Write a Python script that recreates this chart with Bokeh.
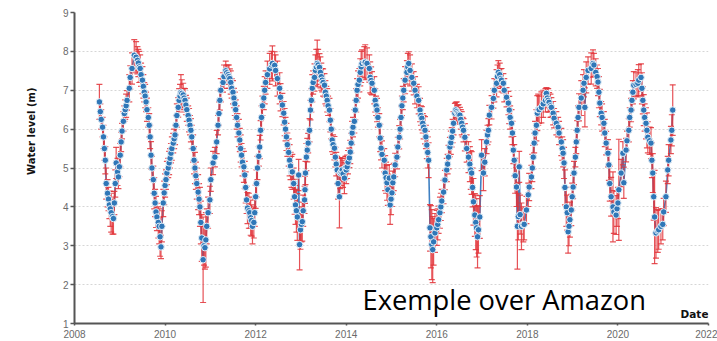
from bokeh.plotting import figure
from bokeh.models import ColumnDataSource, Label, Title
from bokeh.embed import file_html
from bokeh.resources import INLINE

# Altimetry water level over the Amazon: (decimal year, water level [m], error [m])
hy2009 = [(2008.55, 6.70, 0.45), (2008.57, 6.45, 0.20), (2008.59, 6.25, 0.25), (2008.62, 6.05, 0.25),
          (2008.64, 5.80, 0.30), (2008.66, 5.50, 0.30), (2008.68, 5.20, 0.35), (2008.70, 4.60, 0.40),
          (2008.73, 4.35, 0.35), (2008.75, 4.20, 0.30), (2008.77, 4.05, 0.35), (2008.79, 3.95, 0.45),
          (2008.81, 3.85, 0.50), (2008.84, 3.75, 0.45), (2008.86, 3.70, 0.40), (2008.88, 4.10, 0.30),
          (2008.90, 4.60, 0.35), (2008.92, 5.13, 0.40), (2008.95, 4.90, 0.35), (2008.97, 4.77, 0.30),
          (2008.99, 5.03, 0.25), (2009.01, 5.33, 0.30), (2009.03, 5.67, 0.25), (2009.05, 5.95, 0.20),
          (2009.08, 6.20, 0.25), (2009.10, 6.40, 0.20), (2009.12, 6.50, 0.25), (2009.14, 6.60, 0.30),
          (2009.16, 6.74, 0.25), (2009.21, 7.05, 0.35), (2009.23, 7.33, 0.30), (2009.27, 7.56, 0.40),
          (2009.32, 7.90, 0.40)]
hy2010 = [(2009.36, 7.85, 0.40), (2009.39, 7.77, 0.35), (2009.41, 7.70, 0.35), (2009.43, 7.60, 0.40),
          (2009.45, 7.56, 0.35), (2009.47, 7.40, 0.30), (2009.50, 7.26, 0.35), (2009.52, 7.10, 0.30),
          (2009.54, 6.95, 0.25), (2009.56, 6.85, 0.30), (2009.58, 6.70, 0.25), (2009.60, 6.50, 0.30),
          (2009.63, 6.30, 0.25), (2009.65, 6.10, 0.30), (2009.67, 5.80, 0.30), (2009.69, 5.33, 0.35),
          (2009.71, 5.00, 0.30), (2009.74, 4.70, 0.35), (2009.76, 4.35, 0.40), (2009.78, 4.10, 0.35),
          (2009.80, 3.87, 0.40), (2009.82, 3.74, 0.35), (2009.85, 3.60, 0.40), (2009.87, 3.50, 0.45),
          (2009.89, 3.23, 0.50), (2009.91, 2.97, 0.30), (2009.93, 3.50, 0.40), (2009.96, 4.10, 0.35),
          (2009.98, 4.36, 0.30), (2010.00, 4.55, 0.30), (2010.02, 4.70, 0.25), (2010.04, 4.87, 0.30),
          (2010.07, 5.00, 0.25), (2010.09, 5.13, 0.30), (2010.11, 5.25, 0.25), (2010.13, 5.38, 0.25),
          (2010.15, 5.50, 0.30), (2010.18, 5.64, 0.25), (2010.20, 5.75, 0.25), (2010.22, 5.85, 0.25),
          (2010.24, 6.10, 0.25), (2010.26, 6.35, 0.30), (2010.29, 6.56, 0.25), (2010.31, 6.74, 0.30),
          (2010.33, 6.85, 0.30), (2010.35, 6.95, 0.45)]
hy2011 = [(2010.37, 6.92, 0.35), (2010.40, 6.88, 0.30), (2010.42, 6.80, 0.25), (2010.44, 6.74, 0.30),
          (2010.46, 6.62, 0.25), (2010.48, 6.50, 0.30), (2010.51, 6.35, 0.25), (2010.53, 6.23, 0.30),
          (2010.55, 6.10, 0.25), (2010.57, 5.97, 0.30), (2010.59, 5.80, 0.30), (2010.62, 5.50, 0.35),
          (2010.64, 5.20, 0.35), (2010.66, 5.00, 0.40), (2010.68, 4.80, 0.35), (2010.70, 4.60, 0.40),
          (2010.73, 4.38, 0.45), (2010.75, 4.20, 0.40), (2010.77, 4.00, 0.50), (2010.79, 3.60, 0.55),
          (2010.81, 3.20, 0.60), (2010.84, 2.64, 1.10), (2010.86, 3.00, 0.50), (2010.88, 2.95, 0.55),
          (2010.90, 3.15, 0.70), (2010.92, 3.50, 0.45), (2010.95, 3.85, 0.40), (2010.99, 4.18, 0.35),
          (2011.01, 4.70, 0.30), (2011.06, 5.13, 0.30), (2011.10, 5.28, 0.25), (2011.14, 5.67, 0.30),
          (2011.17, 6.10, 0.25), (2011.19, 6.40, 0.30), (2011.21, 6.74, 0.25), (2011.23, 7.00, 0.30),
          (2011.28, 7.20, 0.25), (2011.30, 7.35, 0.30), (2011.34, 7.50, 0.25)]
hy2012 = [(2011.36, 7.45, 0.20), (2011.39, 7.40, 0.25), (2011.41, 7.35, 0.30), (2011.43, 7.30, 0.25),
          (2011.45, 7.20, 0.30), (2011.47, 7.05, 0.25), (2011.50, 6.95, 0.30), (2011.52, 6.80, 0.25),
          (2011.54, 6.65, 0.30), (2011.56, 6.50, 0.25), (2011.58, 6.30, 0.30), (2011.60, 6.10, 0.30),
          (2011.63, 5.90, 0.35), (2011.65, 5.72, 0.30), (2011.67, 5.50, 0.35), (2011.69, 5.33, 0.30),
          (2011.71, 5.15, 0.35), (2011.74, 5.03, 0.40), (2011.76, 4.82, 0.35), (2011.78, 4.50, 0.40),
          (2011.80, 4.18, 0.35), (2011.82, 3.97, 0.40), (2011.85, 3.90, 0.45), (2011.87, 3.85, 0.40),
          (2011.89, 3.72, 0.45), (2011.91, 3.65, 0.40), (2011.93, 3.50, 0.45), (2011.96, 3.60, 0.40),
          (2011.98, 3.85, 0.35), (2012.00, 4.26, 0.30), (2012.02, 4.60, 0.35), (2012.04, 5.00, 0.30),
          (2012.07, 5.30, 0.25), (2012.09, 5.54, 0.30), (2012.11, 5.97, 0.25), (2012.13, 6.30, 0.30),
          (2012.15, 6.60, 0.25), (2012.18, 6.80, 0.30), (2012.20, 7.00, 0.35), (2012.22, 7.20, 0.30),
          (2012.26, 7.40, 0.35), (2012.31, 7.55, 0.40), (2012.35, 7.65, 0.35), (2012.37, 7.69, 0.45)]
hy2013 = [(2012.42, 7.64, 0.35), (2012.44, 7.51, 0.40), (2012.48, 7.30, 0.45), (2012.53, 7.05, 0.40),
          (2012.55, 6.82, 0.35), (2012.59, 6.62, 0.30), (2012.62, 6.41, 0.30), (2012.64, 6.18, 0.35),
          (2012.66, 6.00, 0.30), (2012.68, 5.80, 0.35), (2012.70, 5.60, 0.30), (2012.73, 5.40, 0.35),
          (2012.75, 5.20, 0.40), (2012.77, 5.05, 0.35), (2012.79, 4.90, 0.40), (2012.81, 4.90, 0.45),
          (2012.84, 4.60, 0.40), (2012.86, 4.26, 0.45), (2012.88, 4.05, 0.50), (2012.90, 3.90, 0.55),
          (2012.92, 3.74, 0.60), (2012.95, 4.82, 0.40), (2012.97, 3.03, 0.65), (2012.99, 3.41, 0.50),
          (2013.01, 3.55, 0.45), (2013.03, 3.62, 0.50), (2013.05, 3.90, 0.40), (2013.08, 4.18, 0.35),
          (2013.09, 4.44, 0.35), (2013.10, 4.87, 0.30), (2013.12, 5.28, 0.35), (2013.14, 5.46, 0.30),
          (2013.16, 5.64, 0.25), (2013.19, 5.97, 0.30), (2013.21, 6.49, 0.25), (2013.23, 6.74, 0.30),
          (2013.25, 7.05, 0.35), (2013.27, 7.20, 0.30), (2013.30, 7.33, 0.35), (2013.32, 7.51, 0.40),
          (2013.34, 7.60, 0.45), (2013.36, 7.69, 0.60)]
hy2014 = [(2013.38, 7.65, 0.40), (2013.41, 7.59, 0.35), (2013.43, 7.46, 0.40), (2013.45, 7.35, 0.35),
          (2013.47, 7.26, 0.30), (2013.49, 7.20, 0.35), (2013.52, 7.13, 0.30), (2013.54, 6.95, 0.30),
          (2013.56, 6.85, 0.25), (2013.58, 6.74, 0.30), (2013.60, 6.60, 0.25), (2013.63, 6.49, 0.30),
          (2013.65, 6.23, 0.30), (2013.67, 6.00, 0.25), (2013.69, 5.72, 0.30), (2013.71, 5.60, 0.25),
          (2013.74, 5.51, 0.30), (2013.76, 5.28, 0.25), (2013.78, 5.10, 0.30), (2013.80, 4.95, 0.35),
          (2013.82, 4.60, 0.40), (2013.85, 4.26, 0.80), (2013.87, 4.87, 0.40), (2013.89, 4.90, 0.35),
          (2013.91, 4.95, 0.30), (2013.93, 4.85, 0.35), (2013.96, 4.74, 0.40), (2013.98, 5.00, 0.30),
          (2014.00, 4.95, 0.35), (2014.02, 5.03, 0.30), (2014.04, 5.15, 0.30), (2014.07, 5.26, 0.25),
          (2014.09, 5.41, 0.30), (2014.11, 5.64, 0.25), (2014.13, 5.90, 0.30), (2014.15, 6.05, 0.25),
          (2014.18, 6.20, 0.30), (2014.20, 6.49, 0.25), (2014.22, 6.74, 0.30), (2014.24, 7.00, 0.30),
          (2014.26, 7.15, 0.35), (2014.29, 7.26, 0.30), (2014.31, 7.46, 0.35), (2014.33, 7.60, 0.40),
          (2014.35, 7.69, 0.35), (2014.40, 7.72, 0.40)]
hy2015 = [(2014.42, 7.72, 0.45), (2014.46, 7.69, 0.40), (2014.51, 7.56, 0.35), (2014.53, 7.33, 0.40),
          (2014.55, 7.25, 0.35), (2014.57, 7.18, 0.30), (2014.62, 7.00, 0.35), (2014.64, 6.74, 0.30),
          (2014.66, 6.60, 0.25), (2014.68, 6.49, 0.30), (2014.70, 6.30, 0.25), (2014.73, 6.10, 0.30),
          (2014.75, 5.77, 0.35), (2014.77, 5.51, 0.30), (2014.79, 5.35, 0.35), (2014.84, 5.20, 0.30),
          (2014.86, 4.87, 0.45), (2014.88, 4.75, 0.40), (2014.90, 4.62, 0.45), (2014.92, 4.44, 0.40),
          (2014.95, 4.74, 0.35), (2014.97, 4.05, 0.50), (2014.99, 4.20, 0.40), (2015.01, 4.36, 0.35),
          (2015.03, 4.62, 0.30), (2015.05, 4.77, 0.35), (2015.08, 5.08, 0.30), (2015.12, 5.28, 0.30),
          (2015.14, 5.54, 0.25), (2015.17, 5.79, 0.30), (2015.19, 6.00, 0.25), (2015.21, 6.30, 0.30),
          (2015.23, 6.60, 0.25), (2015.25, 6.80, 0.30), (2015.27, 7.00, 0.30), (2015.30, 7.26, 0.35),
          (2015.34, 7.46, 0.30), (2015.36, 7.60, 0.35), (2015.38, 7.69, 0.30)]
hy2016 = [(2015.41, 7.51, 0.40), (2015.45, 7.33, 0.35), (2015.49, 7.18, 0.30), (2015.52, 7.00, 0.35),
          (2015.56, 6.85, 0.30), (2015.60, 6.74, 0.35), (2015.63, 6.49, 0.30), (2015.65, 6.35, 0.25),
          (2015.67, 6.28, 0.30), (2015.69, 6.15, 0.25), (2015.71, 6.05, 0.30), (2015.74, 5.97, 0.35),
          (2015.76, 5.80, 0.30), (2015.78, 5.59, 0.35), (2015.80, 5.40, 0.40), (2015.82, 5.20, 0.45),
          (2015.85, 3.46, 0.60), (2015.87, 3.23, 0.80), (2015.89, 3.03, 0.90), (2015.91, 2.90, 0.85),
          (2015.93, 3.10, 0.60), (2015.96, 3.33, 0.50), (2016.00, 3.46, 0.45), (2016.02, 3.55, 0.40),
          (2016.04, 3.67, 0.35), (2016.07, 3.85, 0.40), (2016.09, 4.00, 0.35), (2016.11, 4.15, 0.30),
          (2016.15, 4.38, 0.30), (2016.18, 4.69, 0.25), (2016.22, 4.95, 0.30), (2016.24, 5.10, 0.25),
          (2016.26, 5.28, 0.30), (2016.29, 5.54, 0.25), (2016.31, 5.65, 0.30), (2016.33, 5.79, 0.25),
          (2016.35, 5.95, 0.30), (2016.37, 6.15, 0.30), (2016.40, 6.41, 0.25), (2016.42, 6.49, 0.20)]
hy2017 = [(2016.44, 6.45, 0.25), (2016.46, 6.41, 0.20), (2016.48, 6.38, 0.25), (2016.51, 6.36, 0.20),
          (2016.53, 6.25, 0.25), (2016.55, 6.15, 0.30), (2016.57, 6.05, 0.25), (2016.59, 5.97, 0.30),
          (2016.62, 5.79, 0.35), (2016.66, 5.50, 0.35), (2016.70, 5.28, 0.40), (2016.73, 5.10, 0.45),
          (2016.75, 4.95, 0.50), (2016.77, 4.87, 0.55), (2016.79, 4.50, 0.50), (2016.81, 4.13, 0.60),
          (2016.84, 3.79, 0.55), (2016.86, 3.60, 0.70), (2016.88, 3.46, 0.75), (2016.90, 3.23, 0.80),
          (2016.92, 3.41, 0.60), (2016.95, 3.74, 0.55), (2016.99, 5.33, 0.40), (2017.03, 4.87, 0.45),
          (2017.06, 5.15, 0.35), (2017.10, 5.67, 0.30), (2017.12, 5.85, 0.25), (2017.14, 5.97, 0.30),
          (2017.16, 6.36, 0.25), (2017.21, 6.56, 0.30), (2017.25, 6.79, 0.25), (2017.27, 7.00, 0.30),
          (2017.32, 7.18, 0.35), (2017.34, 7.35, 0.30), (2017.36, 7.46, 0.30)]
hy2018 = [(2017.39, 7.40, 0.30), (2017.41, 7.30, 0.25), (2017.43, 7.26, 0.30), (2017.47, 7.18, 0.25),
          (2017.49, 7.00, 0.30), (2017.54, 6.82, 0.25), (2017.58, 6.67, 0.30), (2017.60, 6.49, 0.35),
          (2017.62, 6.30, 0.30), (2017.65, 6.15, 0.35), (2017.67, 5.90, 0.30), (2017.69, 5.46, 0.35),
          (2017.71, 5.20, 0.40), (2017.73, 4.80, 0.45), (2017.76, 4.51, 0.50), (2017.78, 3.50, 1.10),
          (2017.80, 3.75, 0.60), (2017.82, 5.03, 0.40), (2017.84, 3.80, 0.50), (2017.87, 3.50, 0.60),
          (2017.91, 3.55, 0.45), (2017.93, 3.55, 0.40), (2017.98, 3.92, 0.35), (2018.02, 4.31, 0.30),
          (2018.04, 4.51, 0.35), (2018.09, 4.77, 0.30), (2018.11, 5.00, 0.35), (2018.13, 5.28, 0.30),
          (2018.15, 5.64, 0.25), (2018.17, 5.90, 0.30), (2018.20, 6.10, 0.40), (2018.22, 6.41, 0.45),
          (2018.24, 6.50, 0.40), (2018.26, 6.50, 0.35), (2018.31, 6.56, 0.40), (2018.35, 6.65, 0.35),
          (2018.40, 6.74, 0.30), (2018.42, 6.92, 0.15)]
hy2019 = [(2018.44, 6.80, 0.25), (2018.46, 6.74, 0.30), (2018.48, 6.69, 0.25), (2018.51, 6.60, 0.30),
          (2018.53, 6.56, 0.25), (2018.57, 6.41, 0.30), (2018.59, 6.28, 0.25), (2018.64, 6.15, 0.30),
          (2018.68, 6.05, 0.25), (2018.70, 5.90, 0.30), (2018.75, 5.67, 0.35), (2018.77, 5.50, 0.30),
          (2018.79, 5.38, 0.35), (2018.81, 5.13, 0.40), (2018.83, 4.50, 0.45), (2018.86, 4.00, 0.50),
          (2018.88, 3.85, 0.45), (2018.90, 3.36, 0.55), (2018.92, 3.50, 0.50), (2018.94, 3.67, 0.45),
          (2018.97, 3.92, 0.40), (2018.99, 4.26, 0.35), (2019.01, 4.51, 0.30), (2019.03, 4.87, 0.30),
          (2019.06, 5.28, 0.25), (2019.08, 5.67, 0.30), (2019.10, 5.97, 0.25), (2019.12, 6.30, 0.30),
          (2019.14, 6.56, 0.35), (2019.19, 6.80, 0.45), (2019.23, 7.00, 0.40), (2019.25, 7.18, 0.35),
          (2019.27, 6.56, 0.50), (2019.30, 7.33, 0.40), (2019.34, 7.51, 0.35), (2019.41, 7.56, 0.40),
          (2019.45, 7.69, 0.35)]
hy2020 = [(2019.47, 7.65, 0.30), (2019.51, 7.46, 0.35), (2019.54, 7.35, 0.30), (2019.56, 7.21, 0.35),
          (2019.58, 6.95, 0.40), (2019.60, 6.67, 0.35), (2019.63, 6.41, 0.30), (2019.65, 6.30, 0.35),
          (2019.69, 6.15, 0.30), (2019.71, 5.90, 0.35), (2019.74, 5.64, 0.30), (2019.78, 5.38, 0.35),
          (2019.80, 5.08, 0.40), (2019.82, 4.60, 0.45), (2019.85, 4.26, 0.50), (2019.89, 4.00, 0.90),
          (2019.91, 3.87, 0.55), (2019.96, 3.79, 0.50), (2019.98, 3.95, 0.45), (2020.00, 4.10, 0.40),
          (2020.02, 4.44, 1.30), (2020.07, 4.87, 0.35), (2020.11, 5.38, 0.30), (2020.13, 4.62, 0.40),
          (2020.18, 5.46, 0.30), (2020.20, 5.70, 0.25), (2020.24, 5.97, 0.30), (2020.26, 6.30, 0.25),
          (2020.29, 6.49, 0.30), (2020.31, 6.74, 0.25), (2020.33, 6.95, 0.30), (2020.35, 7.13, 0.35),
          (2020.40, 7.15, 0.30), (2020.44, 7.18, 0.35), (2020.46, 7.26, 0.40), (2020.51, 7.33, 0.35)]
hy2021 = [(2020.53, 7.05, 0.40), (2020.55, 6.74, 0.35), (2020.57, 6.49, 0.40), (2020.59, 6.30, 0.35),
          (2020.62, 6.15, 0.40), (2020.64, 5.97, 0.45), (2020.66, 5.79, 0.40), (2020.70, 5.70, 0.35),
          (2020.73, 5.64, 0.40), (2020.75, 5.20, 0.45), (2020.77, 4.87, 0.50), (2020.79, 4.26, 0.60),
          (2020.81, 3.74, 1.20), (2020.84, 3.33, 0.65), (2020.88, 3.38, 0.55), (2020.90, 3.41, 0.50),
          (2020.95, 3.50, 0.45), (2020.99, 3.55, 0.40), (2021.01, 3.87, 0.35), (2021.06, 4.26, 0.40),
          (2021.10, 4.95, 0.35), (2021.12, 5.20, 0.40), (2021.17, 5.72, 0.35), (2021.19, 5.97, 0.40),
          (2021.21, 6.49, 0.65)]

x_ticks = [2008, 2010, 2012, 2014, 2016, 2018, 2020, 2022]
y_ticks = [1, 2, 3, 4, 5, 6, 7, 8, 9]
y_title = "Water level (m)"
x_title = "Date"
note = "Exemple over Amazon"

series = hy2009 + hy2010 + hy2011 + hy2012 + hy2013 + hy2014 + hy2015 + hy2016 + hy2017 + hy2018 + hy2019 + hy2020 + hy2021
t = [r[0] for r in series]
h = [r[1] for r in series]
err = [r[2] for r in series]
src = ColumnDataSource(dict(t=t, h=h, lo=[a - b for a, b in zip(h, err)], hi=[a + b for a, b in zip(h, err)]))

p = figure(width=717, height=341, x_range=(x_ticks[0], x_ticks[-1]), y_range=(y_ticks[0], y_ticks[-1]),
           output_backend="svg", toolbar_location=None,
           min_border_left=70, min_border_right=9, min_border_top=12, min_border_bottom=18)
p.outline_line_color = None
p.background_fill_color = "white"
p.border_fill_color = "white"

p.xgrid.visible = False
p.ygrid.grid_line_color = "#d6d6d6"
p.ygrid.grid_line_dash = "2 2"
p.ygrid.grid_line_width = 1

for ax in (p.xaxis[0], p.yaxis[0]):
    ax.axis_label = None
    ax.axis_line_color = "#555555"
    ax.axis_line_width = 2
    ax.major_tick_line_color = "#555555"
    ax.major_tick_line_width = 1.5
    ax.minor_tick_line_color = None
    ax.major_tick_in = 0
    ax.major_label_text_font = "Liberation Sans"
    ax.major_label_text_font_size = "10px"
    ax.major_label_text_color = "#6a6a6a"
p.xaxis.ticker = x_ticks
p.yaxis.ticker = y_ticks
p.xaxis.major_tick_out = 2
p.xaxis.major_label_standoff = 4
p.yaxis.major_tick_out = 4
p.yaxis.major_label_standoff = 2

# series line, error bars, points
p.line("t", "h", source=src, line_color="#3f80c2", line_width=1.6)
p.segment(x0="t", y0="lo", x1="t", y1="hi", source=src, line_color="#e2343a", line_width=1.2, line_alpha=0.85)
p.scatter("t", "lo", source=src, marker="dash", size=6, line_color="#e2343a", line_width=1.2, line_alpha=0.85)
p.scatter("t", "hi", source=src, marker="dash", size=6, line_color="#e2343a", line_width=1.2, line_alpha=0.85)
p.scatter("t", "h", source=src, marker="circle", size=6.5, fill_color="#2f77b8",
          line_color="#e6f0f8", line_width=1)

p.add_layout(Title(text=y_title, align="right", offset=75, standoff=46,
                   text_font="DejaVu Sans", text_font_style="bold", text_font_size="10px",
                   text_color="#111111"), "left")
p.add_layout(Label(x=2022, y=1.25, text=x_title, text_align="right", text_baseline="alphabetic",
                   text_font="DejaVu Sans", text_font_style="bold", text_font_size="10.5px", text_color="#111111"))
p.add_layout(Label(x=2014.36, y=1.62, text=note, text_align="left", text_baseline="alphabetic",
                   text_font="Open Sans", text_font_size="27.3px", text_color="#000000"))

open("out.html", "w").write(file_html(p, INLINE))
